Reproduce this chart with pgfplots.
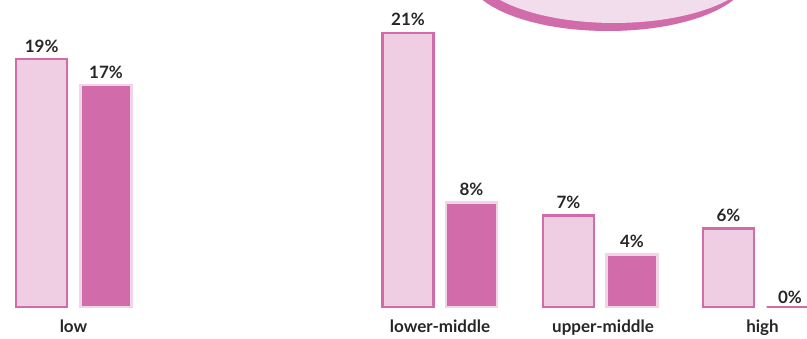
\documentclass[border=0pt]{standalone}
\usepackage{pgfplots}
\pgfplotsset{compat=1.18}
\usepackage{fontspec}
\setmainfont{Lato}
\definecolor{lightpink}{HTML}{EFCDE3}
\definecolor{darkpink}{HTML}{D16BAA}
\definecolor{paleborder}{HTML}{F2D4E8}
\definecolor{ellfill}{HTML}{F1DDEC}
\definecolor{txt}{HTML}{262626}
\begin{document}
\begin{tikzpicture}
\begin{axis}[
  scale only axis,
  width=807pt, height=307pt,
  xmin=0, xmax=807, ymin=0, ymax=23.525,
  clip=false,
  axis line style={draw=none},
  major tick length=0pt,
  ytick=\empty,
  xtick={73.5,440,603,762.5},
  xticklabels={low,lower-middle,upper-middle,high},
  xticklabel style={anchor=base, yshift=-26pt, font=\fontsize{17}{19}\selectfont\bfseries, text=txt},
  /pgf/number format/assume math mode=true,
  nodes near coords={\pgfmathprintnumber{\pgfplotspointmeta}\%},
  every node near coord/.append style={anchor=base, yshift=7pt, inner sep=0pt, font=\fontsize{17}{19}\selectfont\bfseries, text=txt},
]
\fill[darkpink] (axis cs:608,25.44) ellipse [x radius=140pt, y radius=56pt];
\fill[ellfill] (axis cs:614,25.98) ellipse [x radius=140pt, y radius=55pt];
\addplot[ybar, bar width=51, bar shift=0pt, fill=lightpink, draw=darkpink, line width=2.5pt]
  coordinates {(41.7,19) (408,21) (568.5,7) (728.5,6)};
\addplot[ybar, bar width=51, bar shift=0pt, fill=darkpink, draw=paleborder, line width=2.7pt]
  coordinates {(106,17) (471.5,8) (632,4)};
\addplot[ybar, bar width=51, bar shift=0pt, fill=darkpink, draw=darkpink, line width=2.7pt,
  every node near coord/.append style={yshift=-4pt, xshift=-2pt}]
  coordinates {(792,0)};
\end{axis}
\pgfresetboundingbox
\useasboundingbox ([yshift=-32pt]current axis.south west) rectangle (current axis.north east);
\end{tikzpicture}
\end{document}
